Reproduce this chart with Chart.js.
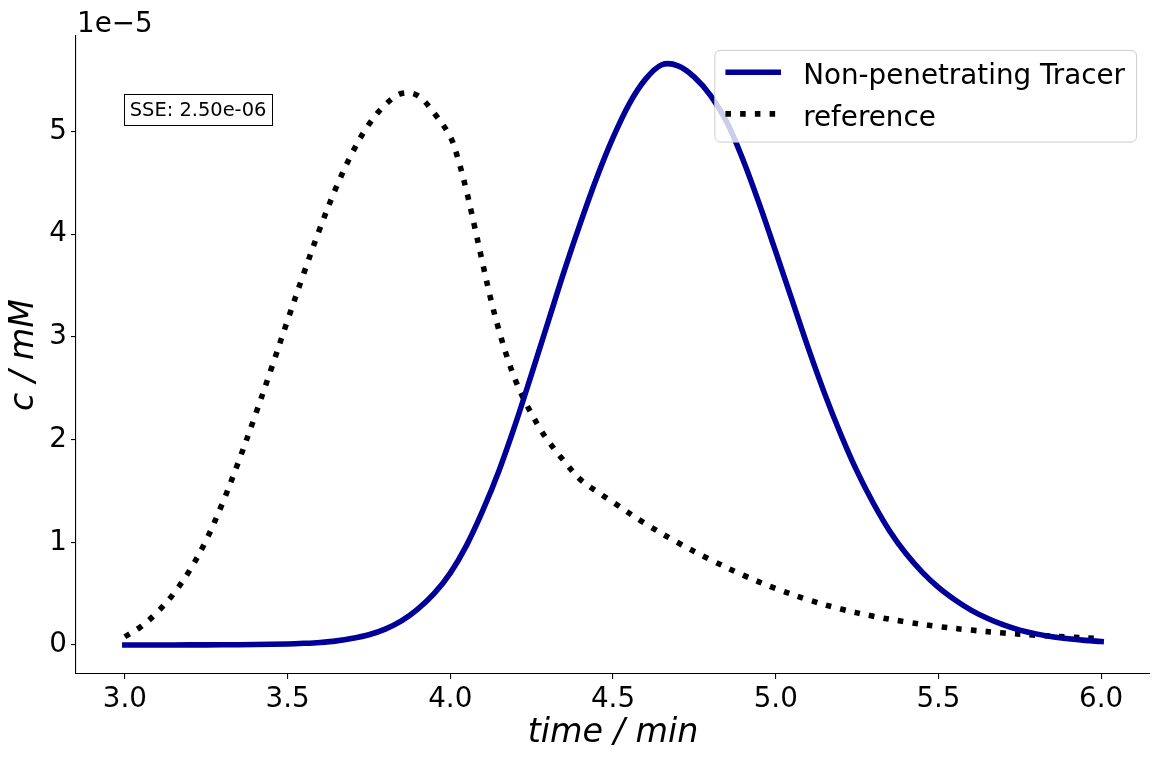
<!DOCTYPE html>
<html>
<head>
<meta charset="utf-8">
<title>Non-penetrating Tracer vs reference</title>
<script src="https://cdn.jsdelivr.net/npm/chart.js@4.4.1/dist/chart.umd.min.js"></script>
<style>
  html, body { margin: 0; padding: 0; background: #fff; }
  #chart { display: block; }
</style>
</head>
<body>
<canvas id="chart" width="1159" height="760"></canvas>
<script>
'use strict';

/* ── Data: concentration in units of 1e-5 mM, time in min ── */
const tracerTime = [3.0, 3.1, 3.2, 3.3, 3.4, 3.5, 3.55, 3.6, 3.65, 3.7, 3.75, 3.8, 3.85, 3.9, 3.95,
    4.0, 4.05, 4.1, 4.15, 4.2, 4.25, 4.3, 4.35, 4.4, 4.45, 4.5, 4.55, 4.6, 4.65, 4.7, 4.75, 4.8, 4.85,
    4.9, 4.95, 5.0, 5.05, 5.1, 5.15, 5.2, 5.25, 5.3, 5.35, 5.4, 5.45, 5.5, 5.55, 5.6, 5.65, 5.7, 5.75,
    5.8, 5.85, 5.9, 5.95, 6.0];
const tracerConc = [0.0, 0.0, 0.001, 0.002, 0.005, 0.01, 0.016, 0.025, 0.04, 0.065, 0.1, 0.155, 0.235, 0.35, 0.5,
    0.7, 0.97, 1.31, 1.7, 2.15, 2.64, 3.14, 3.64, 4.11, 4.55, 4.94, 5.27, 5.51, 5.65, 5.64, 5.53, 5.35, 5.09,
    4.72, 4.29, 3.83, 3.36, 2.89, 2.45, 2.05, 1.69, 1.38, 1.11, 0.89, 0.71, 0.56, 0.44, 0.34, 0.26, 0.195, 0.145,
    0.108, 0.08, 0.06, 0.045, 0.034];

const refTime = [3.0, 3.05, 3.1, 3.15, 3.2, 3.25, 3.3, 3.35, 3.4, 3.45, 3.5, 3.55, 3.6, 3.65, 3.7, 3.75,
    3.8, 3.85, 3.9, 3.95, 4.0, 4.025, 4.05, 4.075, 4.1, 4.125, 4.15, 4.175, 4.2, 4.225, 4.25, 4.275, 4.3,
    4.35, 4.4, 4.45, 4.5, 4.6, 4.7, 4.8, 4.9, 5.0, 5.1, 5.2, 5.3, 5.4, 5.5, 5.6, 5.7, 5.8, 5.9, 6.0];
const refConc = [0.08, 0.18, 0.32, 0.5, 0.73, 1.02, 1.38, 1.79, 2.23, 2.69, 3.16, 3.62, 4.06, 4.46, 4.8, 5.07,
    5.26, 5.37, 5.35, 5.18, 4.95, 4.72, 4.42, 4.07, 3.71, 3.36, 3.06, 2.8, 2.58, 2.4, 2.25, 2.11, 1.99,
    1.79, 1.61, 1.495, 1.39, 1.18, 0.995, 0.83, 0.68, 0.55, 0.44, 0.35, 0.28, 0.225, 0.18, 0.145, 0.117,
    0.095, 0.077, 0.062];

const xTicks = [3.0, 3.5, 4.0, 4.5, 5.0, 5.5, 6.0];
const yTicks = [0, 1, 2, 3, 4, 5];
const seriesLabels = ['Non-penetrating Tracer', 'reference'];
const sseText = 'SSE: 2.50e-06';
const offsetText = '1e\u22125';

/* ── Style helpers ── */
const FONT = "'DejaVu Sans', sans-serif";
const PT = 100 / 72;            // matplotlib points -> px at 100 dpi
const LW = 4 * PT;              // line width of both curves
const BLUE = '#000099';

const toPoints = (xs, ys) => xs.map((x, i) => ({ x, y: ys[i] }));

/* ── Text overlays: offset label, SSE box, framed legend ── */
const overlayPlugin = {
    id: 'overlay',
    afterDatasetsDraw(chart) {
        const { ctx, chartArea: area } = chart;
        const em = 20 * PT;
        ctx.save();

        // axis offset text
        ctx.fillStyle = '#000';
        ctx.font = `${em}px ${FONT}`;
        ctx.textAlign = 'left';
        ctx.textBaseline = 'alphabetic';
        ctx.fillText(offsetText, area.left + 1, 32);

        // SSE text with boxed background (axes fraction 0.05, 0.9)
        const sFont = 14 * PT;
        ctx.font = `${sFont}px ${FONT}`;
        const sx = area.left + 0.05 * (area.right - area.left);
        const sy = area.bottom - 0.9 * (area.bottom - area.top);
        const sw = ctx.measureText(sseText).width;
        const pad = 0.3 * sFont;
        ctx.fillStyle = '#fff';
        ctx.fillRect(sx - pad, sy - pad, sw + 2 * pad, 31.3);
        ctx.strokeStyle = '#000';
        ctx.lineWidth = 1;
        ctx.strokeRect(Math.round(sx - pad) + 0.5, Math.round(sy - pad) + 0.5, Math.round(sw + 2 * pad), 31);
        ctx.fillStyle = '#000';
        ctx.fillText(sseText, sx, sy + 16);

        // legend, upper right
        ctx.font = `${em}px ${FONT}`;
        const textW = Math.max(...seriesLabels.map(s => ctx.measureText(s).width));
        const fw = 0.4 * em + 2 * em + 0.8 * em + textW + 0.4 * em;
        const fh = 0.4 * em * 2 + em * 2 + 0.5 * em;
        const fx = area.right - 0.5 * em - fw;
        const fy = area.top + 0.5 * em;
        ctx.beginPath();
        ctx.roundRect(fx + 0.5, fy + 0.5, fw, fh, 0.2 * em);
        ctx.fillStyle = 'rgba(255,255,255,0.8)';
        ctx.fill();
        ctx.strokeStyle = '#cccccc';
        ctx.lineWidth = 1;
        ctx.stroke();

        chart.data.datasets.forEach((ds, i) => {
            const rowTop = fy + 0.4 * em + i * 1.5 * em;
            const hx = fx + 0.4 * em;
            const hy = rowTop + 11.2;
            ctx.beginPath();
            ctx.setLineDash(ds.borderDash || []);
            ctx.lineCap = ds.borderCapStyle || 'butt';
            ctx.strokeStyle = ds.borderColor;
            ctx.lineWidth = ds.borderWidth;
            ctx.moveTo(hx + (ds.borderDash ? 0 : LW / 2), hy);
            ctx.lineTo(hx + 2 * em - (ds.borderDash ? 0 : LW / 2), hy);
            ctx.stroke();
            ctx.setLineDash([]);
            ctx.fillStyle = '#000';
            ctx.fillText(ds.label, hx + 2.8 * em, rowTop + 23);
        });
        ctx.restore();
    },
};

/* ── Chart ── */
const ctx = document.getElementById('chart').getContext('2d');

new Chart(ctx, {
    type: 'line',
    data: {
        datasets: [{
            label: seriesLabels[0],
            data: toPoints(tracerTime, tracerConc),
            borderColor: BLUE,
            borderWidth: LW,
            borderCapStyle: 'square',
            pointRadius: 0,
            tension: 0.35,
            fill: false,
        }, {
            label: seriesLabels[1],
            data: toPoints(refTime, refConc),
            borderColor: '#000',
            borderWidth: LW,
            borderDash: [LW, 1.65 * LW],
            borderCapStyle: 'butt',
            pointRadius: 0,
            tension: 0.35,
            fill: false,
        }],
    },
    options: {
        responsive: false,
        animation: false,
        devicePixelRatio: 1,
        layout: { padding: { top: 36, right: 9, left: 0, bottom: 0 } },
        plugins: {
            legend: { display: false },
            tooltip: { enabled: false },
        },
        scales: {
            x: {
                type: 'linear',
                min: 2.85,
                max: 6.15,
                afterFit: s => { s.height = 86; },
                afterBuildTicks: s => { s.ticks = xTicks.map(v => ({ value: v })); },
                ticks: {
                    color: '#000',
                    font: { family: FONT, size: 20 * PT },
                    padding: 4,
                    maxRotation: 0,
                    callback: v => v.toFixed(1),
                },
                grid: { drawOnChartArea: false, drawTicks: true, tickLength: 5, color: '#000', lineWidth: 1.1 },
                border: { display: true, color: '#000', width: 1.1 },
                title: {
                    display: true,
                    text: 'time / min',
                    color: '#000',
                    font: { family: FONT, size: 24 * PT, style: 'italic' },
                    padding: { top: 0, bottom: 7 },
                },
            },
            y: {
                type: 'linear',
                min: -0.2825,
                max: 5.93,
                afterFit: s => { s.width = 76; },
                afterBuildTicks: s => { s.ticks = yTicks.map(v => ({ value: v })); },
                ticks: {
                    color: '#000',
                    font: { family: FONT, size: 20 * PT },
                    padding: 4,
                    callback: v => String(v),
                },
                grid: { drawOnChartArea: false, drawTicks: true, tickLength: 5, color: '#000', lineWidth: 1.1 },
                border: { display: true, color: '#000', width: 1.1 },
                title: {
                    display: true,
                    text: 'c / mM',
                    color: '#000',
                    font: { family: FONT, size: 24 * PT, style: 'italic' },
                    padding: { top: 4, bottom: 0 },
                },
            },
        },
    },
    plugins: [overlayPlugin],
});
</script>
</body>
</html>
